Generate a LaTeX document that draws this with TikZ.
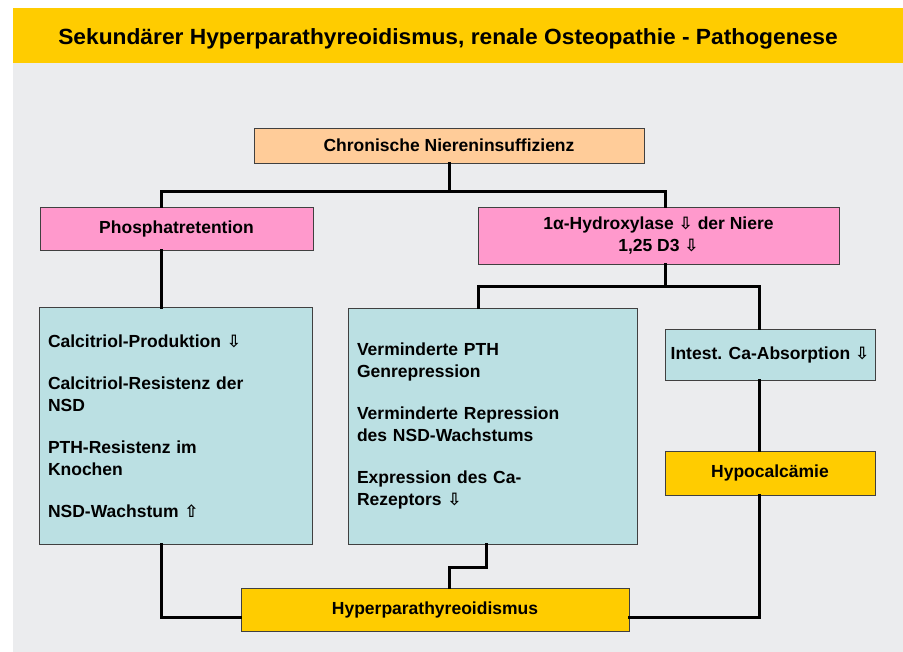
\documentclass[tikz,border=0pt]{standalone}
\usepackage{fontspec}
\setmainfont{Liberation Sans}
\newfontfamily\arrowfont{DejaVu Sans}
\usepackage{tikz}
\usetikzlibrary{positioning,backgrounds,calc}

\definecolor{titlegold}{HTML}{FFCC00}
\definecolor{peach}{HTML}{FFCC99}
\definecolor{rosa}{HTML}{FF99CC}
\definecolor{aqua}{HTML}{BBE0E3}
\definecolor{panel}{HTML}{EBECEE}

\newcommand{\ab}{{\arrowfont\fontsize{17}{17}\selectfont\char"21E9}}
\newcommand{\auf}{{\arrowfont\fontsize{17}{17}\selectfont\char"21E7}}

\begin{document}
\begin{tikzpicture}[x=1pt,y=-1pt,inner sep=0pt,
                    font=\bfseries\fontsize{17.5}{22}\selectfont,
                    box/.style={draw=black!75,line width=0.8pt,align=center},
                    liste/.style={box,fill=aqua,align=left,text width=#1},
                    link/.style={line width=3pt,line cap=rect}]
    \useasboundingbox (0,0) rectangle (903,652);

    \node at (448,45) (Titel) [anchor=base,font=\bfseries\fontsize{22}{22}\selectfont]
        {\scalebox{1.035}[1]{Sekundärer Hyperparathyreoidismus, renale Osteopathie - Pathogenese}};

    \node at (449,145.5) (CNI)    [box,fill=peach,minimum width=390,minimum height=35] {Chronische Niereninsuffizienz};
    \node at (176.5,228.5) (Phos) [box,fill=rosa,minimum width=273,minimum height=43]  {Phosphatretention};
    \node at (658.5,235.5) (Hydrox) [box,fill=rosa,minimum width=361,minimum height=57]
        {1α-Hydroxylase \ab{} der Niere\\1,25 D3 \ab};
    \node at (175.5,426) (Calc) [liste=255,minimum width=273,minimum height=237]
        {Calcitriol-Produktion \ab\\[20pt]
         Calcitriol-Resistenz der\\NSD\\[20pt]
         PTH-Resistenz im\\Knochen\\[20pt]
         NSD-Wachstum \auf};
    \node at (492.5,426) (Verm)   [liste=271,minimum width=289,minimum height=236]
        {Verminderte PTH\\Genrepression\\[20pt]
         Verminderte Repression\\des NSD-Wachstums\\[20pt]
         Expression des Ca-\\Rezeptors \ab};
    \node at (770,354.5) (Intest) [box,fill=aqua,minimum width=210,minimum height=51] {Intest. Ca-Absorption \ab};
    \node at (770,473) (Hypo)     [box,fill=titlegold,minimum width=210,minimum height=44] {Hypocalcämie};
    \node at (435,609.5) (Hyper)  [box,fill=titlegold,minimum width=388,minimum height=43] {Hyperparathyreoidismus};

    % Verzweigungen
    \coordinate (tl) at (161,192);
    \coordinate (tr) at (665,192);
    \coordinate (ml) at (478,287);
    \coordinate (mr) at (759,287);
    \coordinate (bl) at (161,617);
    \coordinate (vj) at (486,567);
    \coordinate (hj) at (449,567);

    \draw [link] (CNI.south) -- (CNI.south |- tl);
    \draw [link] (tl |- Phos.north) -- (tl) -- (tr) -- (tr |- Hydrox.north);
    \draw [link] (tl |- Phos.south) -- (tl |- Calc.north);
    \draw [link] (tr |- Hydrox.south) -- (tr |- ml);
    \draw [link] (ml |- Verm.north) -- (ml) -- (mr) -- (mr |- Intest.north);
    \draw [link] (mr |- Intest.south) -- (mr |- Hypo.north);
    \draw [link] (tl |- Calc.south) -- (bl) -- (bl -| Hyper.west);
    \draw [link] (mr |- Hypo.south) -- (mr |- bl) -- (bl -| Hyper.east);
    \draw [link] (vj |- Verm.south) -- (vj) -- (hj) -- (hj |- Hyper.north);

    \begin{scope}[on background layer]
        \fill [panel]      (13,63) rectangle (903,652);
        \fill [titlegold]  (13, 8) rectangle (903,63);
    \end{scope}
\end{tikzpicture}
\end{document}
